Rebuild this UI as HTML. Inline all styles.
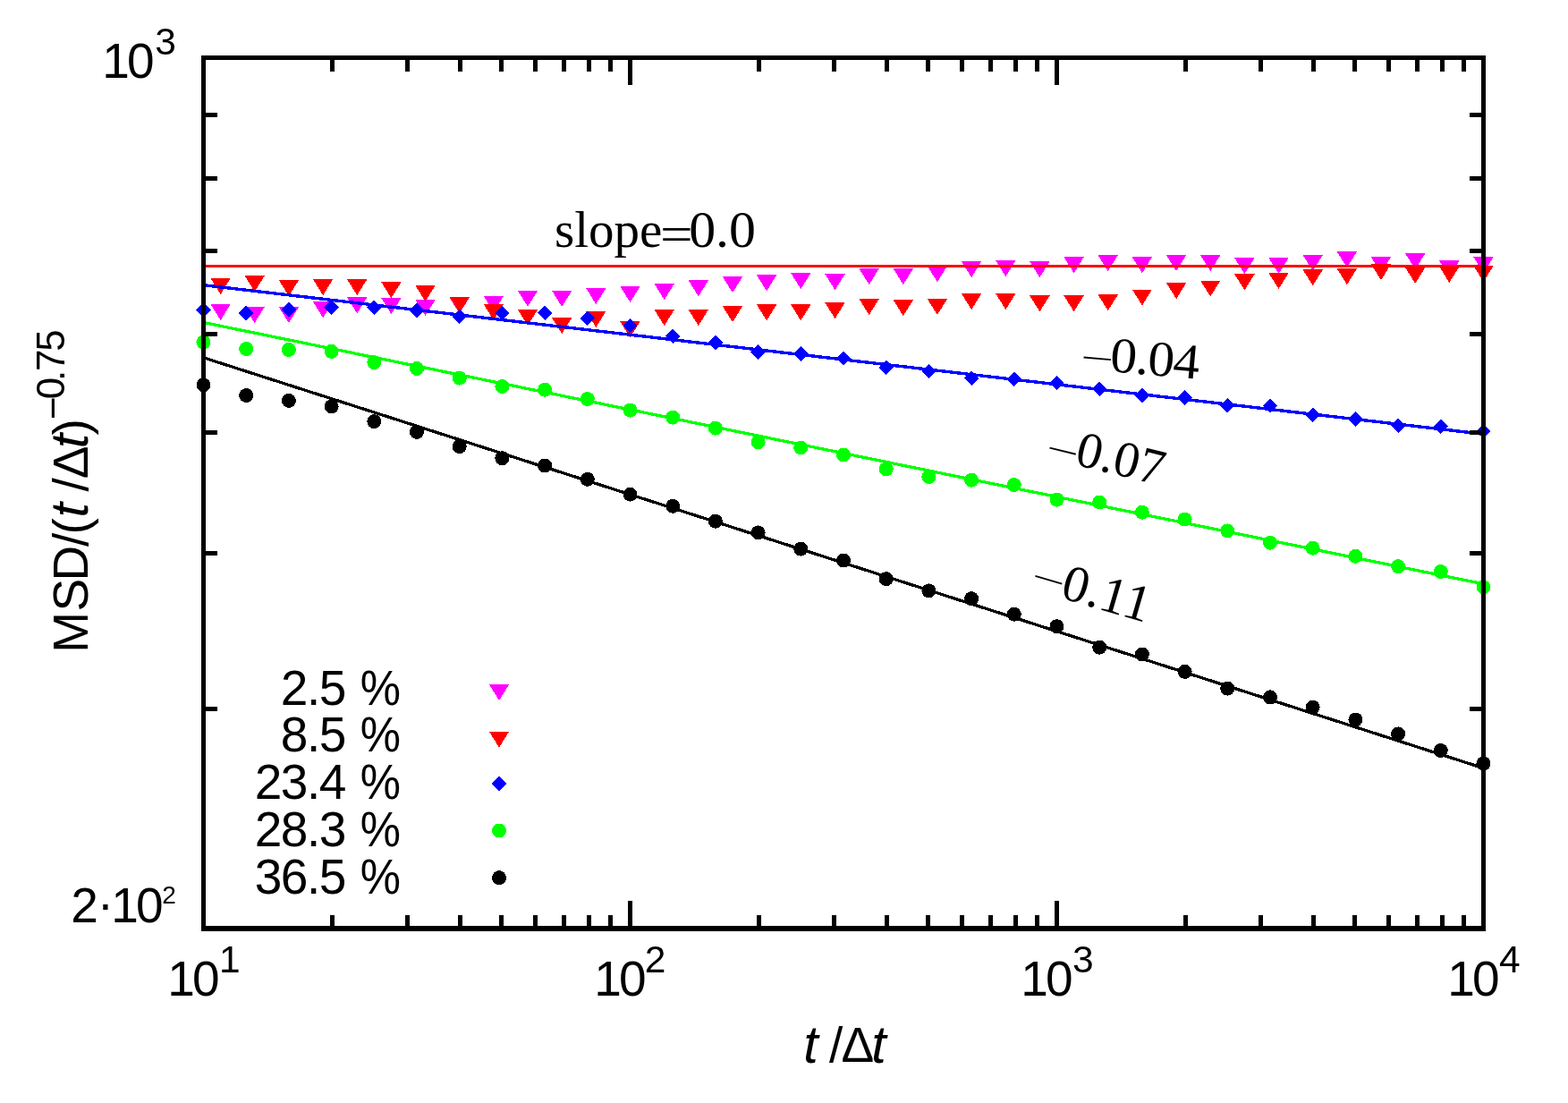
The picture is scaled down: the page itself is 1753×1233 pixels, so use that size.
<!DOCTYPE html><html><head><meta charset="utf-8"><title>MSD plot</title><style>html,body{margin:0;padding:0;background:#fff;overflow:hidden}svg{display:block}text{font-family:"Liberation Sans",Arial,sans-serif}.sf{font-family:"Liberation Serif","Times New Roman",serif}</style></head><body>
<svg width="1753" height="1233" viewBox="0 0 1753 1233">
<rect width="1753" height="1233" fill="#fff"/>
<g shape-rendering="crispEdges">
<path d="M235.4 340.0L257.8 340.0L246.6 358.0ZM273.5 343.0L295.9 343.0L284.7 361.0ZM311.7 343.0L334.1 343.0L322.9 361.0ZM349.9 337.2L372.3 337.2L361.1 355.2ZM388.0 332.3L410.4 332.3L399.2 350.3ZM426.2 333.0L448.6 333.0L437.4 351.0ZM464.3 335.0L486.7 335.0L475.5 353.0ZM502.5 332.5L524.9 332.5L513.7 350.5ZM540.7 330.9L563.1 330.9L551.9 348.9ZM578.8 324.9L601.2 324.9L590.0 342.9ZM617.0 324.9L639.4 324.9L628.2 342.9ZM655.1 322.0L677.5 322.0L666.3 340.0ZM693.3 320.1L715.7 320.1L704.5 338.1ZM731.5 317.1L753.9 317.1L742.7 335.1ZM769.6 313.3L792.0 313.3L780.8 331.3ZM807.8 309.3L830.2 309.3L819.0 327.3ZM845.9 307.4L868.3 307.4L857.1 325.4ZM884.1 305.1L906.5 305.1L895.3 323.1ZM922.3 306.3L944.7 306.3L933.5 324.3ZM960.4 300.2L982.8 300.2L971.6 318.2ZM998.6 300.2L1021.0 300.2L1009.8 318.2ZM1036.7 297.2L1059.1 297.2L1047.9 315.2ZM1074.9 292.2L1097.3 292.2L1086.1 310.2ZM1113.1 291.1L1135.5 291.1L1124.3 309.1ZM1151.2 292.2L1173.6 292.2L1162.4 310.2ZM1189.4 287.3L1211.8 287.3L1200.6 305.3ZM1227.5 285.1L1249.9 285.1L1238.7 303.1ZM1265.7 287.3L1288.1 287.3L1276.9 305.3ZM1303.9 285.1L1326.3 285.1L1315.1 303.1ZM1342.0 285.1L1364.4 285.1L1353.2 303.1ZM1380.2 288.2L1402.6 288.2L1391.4 306.2ZM1418.3 288.1L1440.7 288.1L1429.5 306.1ZM1456.5 284.9L1478.9 284.9L1467.7 302.9ZM1494.7 281.2L1517.1 281.2L1505.9 299.2ZM1532.8 287.2L1555.2 287.2L1544.0 305.2ZM1571.0 283.1L1593.4 283.1L1582.2 301.1ZM1609.1 291.4L1631.5 291.4L1620.3 309.4ZM1647.3 287.2L1669.7 287.2L1658.5 305.2Z" fill="#ff00ff"/>
<path d="M235.4 311.0L257.8 311.0L246.6 329.0ZM273.5 308.1L295.9 308.1L284.7 326.1ZM311.7 313.1L334.1 313.1L322.9 331.1ZM349.9 312.2L372.3 312.2L361.1 330.2ZM388.0 312.2L410.4 312.2L399.2 330.2ZM426.2 315.2L448.6 315.2L437.4 333.2ZM464.3 319.0L486.7 319.0L475.5 337.0ZM502.5 332.0L524.9 332.0L513.7 350.0ZM540.7 340.0L563.1 340.0L551.9 358.0ZM578.8 346.0L601.2 346.0L590.0 364.0ZM617.0 355.2L639.4 355.2L628.2 373.2ZM655.1 347.9L677.5 347.9L666.3 365.9ZM693.3 359.2L715.7 359.2L704.5 377.2ZM731.5 346.1L753.9 346.1L742.7 364.1ZM769.6 346.1L792.0 346.1L780.8 364.1ZM807.8 342.2L830.2 342.2L819.0 360.2ZM845.9 340.4L868.3 340.4L857.1 358.4ZM884.1 340.4L906.5 340.4L895.3 358.4ZM922.3 338.2L944.7 338.2L933.5 356.2ZM960.4 334.1L982.8 334.1L971.6 352.1ZM998.6 335.2L1021.0 335.2L1009.8 353.2ZM1036.7 334.1L1059.1 334.1L1047.9 352.1ZM1074.9 328.2L1097.3 328.2L1086.1 346.2ZM1113.1 328.2L1135.5 328.2L1124.3 346.2ZM1151.2 330.4L1173.6 330.4L1162.4 348.4ZM1189.4 330.4L1211.8 330.4L1200.6 348.4ZM1227.5 329.3L1249.9 329.3L1238.7 347.3ZM1265.7 323.5L1288.1 323.5L1276.9 341.5ZM1303.9 316.2L1326.3 316.2L1315.1 334.2ZM1342.0 313.5L1364.4 313.5L1353.2 331.5ZM1380.2 306.4L1402.6 306.4L1391.4 324.4ZM1418.3 305.1L1440.7 305.1L1429.5 323.1ZM1456.5 301.3L1478.9 301.3L1467.7 319.3ZM1494.7 300.2L1517.1 300.2L1505.9 318.2ZM1532.8 295.2L1555.2 295.2L1544.0 313.2ZM1571.0 298.9L1593.4 298.9L1582.2 316.9ZM1609.1 298.0L1631.5 298.0L1620.3 316.0ZM1647.3 297.0L1669.7 297.0L1658.5 315.0Z" fill="#ff0000"/>
<line x1="230.0" y1="297.5" x2="1656.0" y2="297.5" stroke="#ff0000" stroke-width="3.0"/>
<path d="M227.5 338.1L235.8 346.4L227.5 354.7L219.2 346.4ZM275.2 341.7L283.5 350.0L275.2 358.3L266.9 350.0ZM322.9 337.9L331.2 346.2L322.9 354.5L314.6 346.2ZM370.6 335.4L378.9 343.7L370.6 352.0L362.3 343.7ZM418.3 335.4L426.6 343.7L418.3 352.0L410.0 343.7ZM466.0 338.7L474.3 347.0L466.0 355.3L457.7 347.0ZM513.7 345.4L522.0 353.7L513.7 362.0L505.4 353.7ZM561.4 341.8L569.7 350.1L561.4 358.4L553.1 350.1ZM609.1 341.4L617.4 349.7L609.1 358.0L600.8 349.7ZM656.8 347.6L665.1 355.9L656.8 364.2L648.5 355.9ZM704.5 355.8L712.8 364.1L704.5 372.4L696.2 364.1ZM752.2 367.4L760.5 375.7L752.2 384.0L743.9 375.7ZM799.9 374.7L808.2 383.0L799.9 391.3L791.6 383.0ZM847.6 385.1L855.9 393.4L847.6 401.7L839.3 393.4ZM895.3 387.3L903.6 395.6L895.3 403.9L887.0 395.6ZM943.0 392.1L951.3 400.4L943.0 408.7L934.7 400.4ZM990.7 402.5L999.0 410.8L990.7 419.1L982.4 410.8ZM1038.4 406.7L1046.7 415.0L1038.4 423.3L1030.1 415.0ZM1086.1 414.5L1094.4 422.8L1086.1 431.1L1077.8 422.8ZM1133.8 415.3L1142.1 423.6L1133.8 431.9L1125.5 423.6ZM1181.5 419.7L1189.8 428.0L1181.5 436.3L1173.2 428.0ZM1229.2 426.6L1237.5 434.9L1229.2 443.2L1220.9 434.9ZM1276.9 433.6L1285.2 441.9L1276.9 450.2L1268.6 441.9ZM1324.6 436.2L1332.9 444.5L1324.6 452.8L1316.3 444.5ZM1372.3 445.1L1380.6 453.4L1372.3 461.7L1364.0 453.4ZM1420.0 445.4L1428.3 453.7L1420.0 462.0L1411.7 453.7ZM1467.7 455.7L1476.0 464.0L1467.7 472.3L1459.4 464.0ZM1515.4 460.3L1523.7 468.6L1515.4 476.9L1507.1 468.6ZM1563.1 467.4L1571.4 475.7L1563.1 484.0L1554.8 475.7ZM1610.8 468.3L1619.1 476.6L1610.8 484.9L1602.5 476.6ZM1658.5 473.9L1666.8 482.2L1658.5 490.5L1650.2 482.2Z" fill="#0000ff"/>
<line x1="230.0" y1="319.0" x2="1656.0" y2="485.0" stroke="#0000ff" stroke-width="3.4"/>
<g fill="#00ff00"><circle cx="227.5" cy="382.5" r="8"/><circle cx="275.2" cy="390.0" r="8"/><circle cx="322.9" cy="391.0" r="8"/><circle cx="370.6" cy="392.9" r="8"/><circle cx="418.3" cy="405.1" r="8"/><circle cx="466.0" cy="412.0" r="8"/><circle cx="513.7" cy="422.6" r="8"/><circle cx="561.4" cy="432.0" r="8"/><circle cx="609.1" cy="435.7" r="8"/><circle cx="656.8" cy="446.0" r="8"/><circle cx="704.5" cy="458.5" r="8"/><circle cx="752.2" cy="466.6" r="8"/><circle cx="799.9" cy="478.6" r="8"/><circle cx="847.6" cy="494.2" r="8"/><circle cx="895.3" cy="500.5" r="8"/><circle cx="943.0" cy="508.5" r="8"/><circle cx="990.7" cy="524.3" r="8"/><circle cx="1038.4" cy="533.0" r="8"/><circle cx="1086.1" cy="536.7" r="8"/><circle cx="1133.8" cy="542.0" r="8"/><circle cx="1181.5" cy="558.6" r="8"/><circle cx="1229.2" cy="561.5" r="8"/><circle cx="1276.9" cy="572.7" r="8"/><circle cx="1324.6" cy="580.5" r="8"/><circle cx="1372.3" cy="593.4" r="8"/><circle cx="1420.0" cy="606.7" r="8"/><circle cx="1467.7" cy="612.7" r="8"/><circle cx="1515.4" cy="621.8" r="8"/><circle cx="1563.1" cy="633.2" r="8"/><circle cx="1610.8" cy="639.0" r="8"/><circle cx="1658.5" cy="656.3" r="8"/></g>
<line x1="230.0" y1="361.0" x2="1656.0" y2="652.3" stroke="#00ff00" stroke-width="3.3"/>
<g fill="#000"><circle cx="227.5" cy="430.3" r="8"/><circle cx="275.2" cy="442.0" r="8"/><circle cx="322.9" cy="447.9" r="8"/><circle cx="370.6" cy="454.4" r="8"/><circle cx="418.3" cy="471.1" r="8"/><circle cx="466.0" cy="482.8" r="8"/><circle cx="513.7" cy="499.1" r="8"/><circle cx="561.4" cy="512.2" r="8"/><circle cx="609.1" cy="520.5" r="8"/><circle cx="656.8" cy="535.8" r="8"/><circle cx="704.5" cy="552.7" r="8"/><circle cx="752.2" cy="565.8" r="8"/><circle cx="799.9" cy="582.7" r="8"/><circle cx="847.6" cy="595.4" r="8"/><circle cx="895.3" cy="613.6" r="8"/><circle cx="943.0" cy="626.5" r="8"/><circle cx="990.7" cy="647.1" r="8"/><circle cx="1038.4" cy="660.4" r="8"/><circle cx="1086.1" cy="669.2" r="8"/><circle cx="1133.8" cy="686.7" r="8"/><circle cx="1181.5" cy="700.2" r="8"/><circle cx="1229.2" cy="723.7" r="8"/><circle cx="1276.9" cy="731.5" r="8"/><circle cx="1324.6" cy="750.9" r="8"/><circle cx="1372.3" cy="769.6" r="8"/><circle cx="1420.0" cy="779.4" r="8"/><circle cx="1467.7" cy="790.5" r="8"/><circle cx="1515.4" cy="804.5" r="8"/><circle cx="1563.1" cy="820.4" r="8"/><circle cx="1610.8" cy="839.0" r="8"/><circle cx="1658.5" cy="853.5" r="8"/></g>
<line x1="230.0" y1="400.6" x2="1656.0" y2="857.9" stroke="#000" stroke-width="3.3"/>
</g>
<g fill="#000" shape-rendering="crispEdges"><rect x="225.0" y="62.0" width="1436.0" height="5.0"/><rect x="225.0" y="1035.0" width="1436.0" height="6.0"/><rect x="225.0" y="62.0" width="5.0" height="979.0"/><rect x="1656.0" y="62.0" width="5.0" height="979.0"/><rect x="702.0" y="1007.0" width="5.0" height="31.0"/><rect x="702.0" y="64.5" width="5.0" height="30.0"/><rect x="1179.0" y="1007.0" width="5.0" height="31.0"/><rect x="1179.0" y="64.5" width="5.0" height="30.0"/><rect x="368.6" y="1022.5" width="5.0" height="15.5"/><rect x="368.6" y="64.5" width="5.0" height="15.5"/><rect x="452.6" y="1022.5" width="5.0" height="15.5"/><rect x="452.6" y="64.5" width="5.0" height="15.5"/><rect x="512.2" y="1022.5" width="5.0" height="15.5"/><rect x="512.2" y="64.5" width="5.0" height="15.5"/><rect x="558.4" y="1022.5" width="5.0" height="15.5"/><rect x="558.4" y="64.5" width="5.0" height="15.5"/><rect x="596.2" y="1022.5" width="5.0" height="15.5"/><rect x="596.2" y="64.5" width="5.0" height="15.5"/><rect x="628.1" y="1022.5" width="5.0" height="15.5"/><rect x="628.1" y="64.5" width="5.0" height="15.5"/><rect x="655.8" y="1022.5" width="5.0" height="15.5"/><rect x="655.8" y="64.5" width="5.0" height="15.5"/><rect x="680.2" y="1022.5" width="5.0" height="15.5"/><rect x="680.2" y="64.5" width="5.0" height="15.5"/><rect x="845.6" y="1022.5" width="5.0" height="15.5"/><rect x="845.6" y="64.5" width="5.0" height="15.5"/><rect x="929.6" y="1022.5" width="5.0" height="15.5"/><rect x="929.6" y="64.5" width="5.0" height="15.5"/><rect x="989.2" y="1022.5" width="5.0" height="15.5"/><rect x="989.2" y="64.5" width="5.0" height="15.5"/><rect x="1035.4" y="1022.5" width="5.0" height="15.5"/><rect x="1035.4" y="64.5" width="5.0" height="15.5"/><rect x="1073.2" y="1022.5" width="5.0" height="15.5"/><rect x="1073.2" y="64.5" width="5.0" height="15.5"/><rect x="1105.1" y="1022.5" width="5.0" height="15.5"/><rect x="1105.1" y="64.5" width="5.0" height="15.5"/><rect x="1132.8" y="1022.5" width="5.0" height="15.5"/><rect x="1132.8" y="64.5" width="5.0" height="15.5"/><rect x="1157.2" y="1022.5" width="5.0" height="15.5"/><rect x="1157.2" y="64.5" width="5.0" height="15.5"/><rect x="1322.6" y="1022.5" width="5.0" height="15.5"/><rect x="1322.6" y="64.5" width="5.0" height="15.5"/><rect x="1406.6" y="1022.5" width="5.0" height="15.5"/><rect x="1406.6" y="64.5" width="5.0" height="15.5"/><rect x="1466.2" y="1022.5" width="5.0" height="15.5"/><rect x="1466.2" y="64.5" width="5.0" height="15.5"/><rect x="1512.4" y="1022.5" width="5.0" height="15.5"/><rect x="1512.4" y="64.5" width="5.0" height="15.5"/><rect x="1550.2" y="1022.5" width="5.0" height="15.5"/><rect x="1550.2" y="64.5" width="5.0" height="15.5"/><rect x="1582.1" y="1022.5" width="5.0" height="15.5"/><rect x="1582.1" y="64.5" width="5.0" height="15.5"/><rect x="1609.8" y="1022.5" width="5.0" height="15.5"/><rect x="1609.8" y="64.5" width="5.0" height="15.5"/><rect x="1634.2" y="1022.5" width="5.0" height="15.5"/><rect x="1634.2" y="64.5" width="5.0" height="15.5"/><rect x="227.5" y="790.3" width="15.5" height="4.8"/><rect x="1643.0" y="790.3" width="15.5" height="4.8"/><rect x="227.5" y="616.3" width="15.5" height="4.8"/><rect x="1643.0" y="616.3" width="15.5" height="4.8"/><rect x="227.5" y="481.4" width="15.5" height="4.8"/><rect x="1643.0" y="481.4" width="15.5" height="4.8"/><rect x="227.5" y="371.1" width="15.5" height="4.8"/><rect x="1643.0" y="371.1" width="15.5" height="4.8"/><rect x="227.5" y="277.8" width="15.5" height="4.8"/><rect x="1643.0" y="277.8" width="15.5" height="4.8"/><rect x="227.5" y="197.1" width="15.5" height="4.8"/><rect x="1643.0" y="197.1" width="15.5" height="4.8"/><rect x="227.5" y="125.8" width="15.5" height="4.8"/><rect x="1643.0" y="125.8" width="15.5" height="4.8"/></g>
<g fill="#000"><text x="114.35" y="86.80" font-size="55">1</text><text x="142.10" y="86.80" font-size="55">0</text><text x="173.31" y="60.90" font-size="42.5">3</text><text x="79.15" y="1030.90" font-size="55">2</text><text x="108.70" y="1029.00" font-size="55">·</text><text x="124.30" y="1030.90" font-size="55">1</text><text x="152.05" y="1030.90" font-size="55">0</text><text x="181.30" y="1009.90" font-size="28">2</text><text x="187.30" y="1112.80" font-size="55">1</text><text x="215.05" y="1112.80" font-size="55">0</text><text x="245.11" y="1087.00" font-size="42.5">1</text><text x="664.30" y="1112.80" font-size="55">1</text><text x="692.05" y="1112.80" font-size="55">0</text><text x="720.83" y="1087.00" font-size="42.5">2</text><text x="1141.30" y="1112.80" font-size="55">1</text><text x="1169.05" y="1112.80" font-size="55">0</text><text x="1199.11" y="1087.00" font-size="42.5">3</text><text x="1618.30" y="1112.80" font-size="55">1</text><text x="1646.05" y="1112.80" font-size="55">0</text><text x="1675.93" y="1087.00" font-size="42.5">4</text><text x="898.22" y="1187.60" font-size="59" font-style="italic">t</text><text x="927.00" y="1186.70" font-size="55">/</text><text x="940.45" y="1186.70" font-size="55">Δ</text><text x="974.32" y="1187.60" font-size="59" font-style="italic">t</text><g transform="translate(98,725.2) rotate(-90)"><text x="-4.50" y="0.00" font-size="55">M</text><text x="41.70" y="0.00" font-size="55">S</text><text x="75.70" y="0.00" font-size="55">D</text><text x="114.30" y="0.00" font-size="55">/</text><text x="127.70" y="0.00" font-size="55">(</text><text x="146.82" y="0.00" font-size="59" font-style="italic">t</text><text x="175.60" y="0.00" font-size="55">/</text><text x="190.05" y="0.00" font-size="55">Δ</text><text x="223.92" y="0.00" font-size="59" font-style="italic">t</text><text x="238.60" y="0.00" font-size="55">)</text><text x="256.15" y="-24.50" font-size="44">−</text><text x="279.05" y="-26.00" font-size="44">0</text><text x="299.20" y="-26.00" font-size="44">.</text><text x="310.15" y="-26.00" font-size="44">7</text><text x="332.55" y="-26.00" font-size="44">5</text></g><text class="sf" x="620" y="275.5" font-size="57">slope</text><text class="sf" font-size="57" transform="translate(738,281) scale(1.14,1)">=</text><text class="sf" font-size="57" transform="translate(770.2,275.5) scale(1.05,1)">0.0</text><g transform="translate(1211.70,412.60) rotate(5.00)"><text class="sf" font-size="56" transform="translate(-4.43,-0.91) scale(1.173,0.65)">−</text><text class="sf" font-size="56" letter-spacing="-1.20" transform="translate(28.51,0) scale(1.060,1)">0.04</text></g><g transform="translate(1174.00,512.45) rotate(13.80)"><text class="sf" font-size="57" transform="translate(-6.37,0.81) scale(1.134,0.65)">−</text><text class="sf" font-size="57" letter-spacing="0.00" transform="translate(27.11,0) scale(1.000,1)">0.07</text></g><g transform="translate(1158.00,660.30) rotate(16.20)"><text class="sf" font-size="58" transform="translate(-8.38,-2.98) scale(1.151,0.65)">−</text><text class="sf" font-size="58" letter-spacing="0.30" transform="translate(27.07,0) scale(1.000,1)">0.11</text></g><text x="385.8" y="787.7" font-size="55" text-anchor="end" letter-spacing="-1.5">2.5</text><text font-size="55" transform="translate(402.85,787.70) scale(0.925,1)">%</text><text x="385.8" y="840.4" font-size="55" text-anchor="end" letter-spacing="-1.5">8.5</text><text font-size="55" transform="translate(402.85,840.40) scale(0.925,1)">%</text><text x="385.8" y="893.1" font-size="55" text-anchor="end" letter-spacing="-1.5">23.4</text><text font-size="55" transform="translate(402.85,893.10) scale(0.925,1)">%</text><text x="385.8" y="945.8" font-size="55" text-anchor="end" letter-spacing="-1.5">28.3</text><text font-size="55" transform="translate(402.85,945.80) scale(0.925,1)">%</text><text x="385.8" y="998.5" font-size="55" text-anchor="end" letter-spacing="-1.5">36.5</text><text font-size="55" transform="translate(402.85,998.50) scale(0.925,1)">%</text></g>
<g shape-rendering="crispEdges">
<path d="M546.8 765.0L569.2 765.0L558.0 783.0Z" fill="#ff00ff"/>
<path d="M546.8 817.6L569.2 817.6L558.0 835.6Z" fill="#ff0000"/>
<path d="M558.0 867.7L566.3 876.0L558.0 884.3L549.7 876.0Z" fill="#0000ff"/>
<circle cx="558" cy="928.6" r="8" fill="#00ff00"/>
<circle cx="558" cy="981.2" r="8" fill="#000"/>
</g>
</svg></body></html>
